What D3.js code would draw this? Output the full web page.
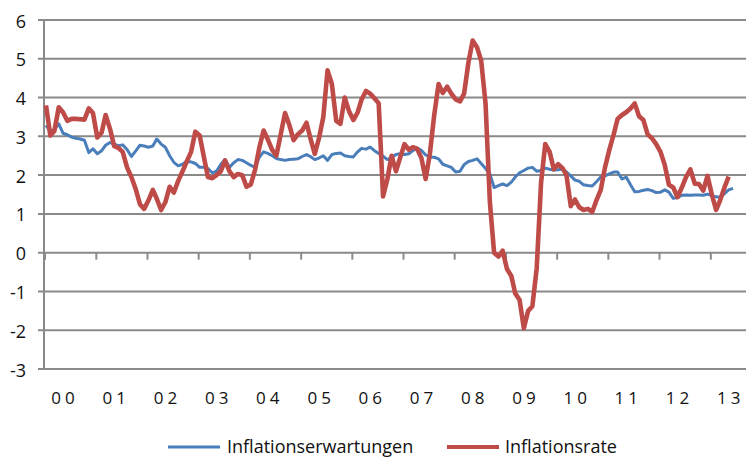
<!DOCTYPE html>
<html>
<head>
<meta charset="utf-8">
<script src="https://cdn.jsdelivr.net/npm/d3@7"></script>
<style>
  body { margin: 0; background: #fff; }
  svg { display: block; font-family: "Open Sans", sans-serif; }
  .grid line { stroke: #8a8a8a; stroke-width: 2; }
  .lbl { fill: #111; }
</style>
</head>
<body>
<svg id="chart" width="746" height="458"></svg>
<script>
// Data (monthly, starting Jan 2000)
const years = ['00', '01', '02', '03', '04', '05', '06', '07', '08', '09', '10', '11', '12', '13'];
const yTicks = [-3, -2, -1, 0, 1, 2, 3, 4, 5, 6];

const erwartungen = [
  3.28, 3.12, 3.18, 3.32, 3.08, 3.04, 2.98, 2.95, 2.93, 2.9, 2.58, 2.68,
  2.55, 2.63, 2.77, 2.84, 2.8, 2.76, 2.78, 2.66, 2.48, 2.62, 2.77, 2.75,
  2.72, 2.75, 2.93, 2.8, 2.72, 2.5, 2.33, 2.24, 2.28, 2.36, 2.34, 2.3,
  2.2, 2.2, 2.17, 2.06, 2.1, 2.28, 2.4, 2.2, 2.32, 2.4, 2.38, 2.32,
  2.25, 2.2, 2.46, 2.6, 2.56, 2.5, 2.43, 2.4, 2.38, 2.4, 2.41, 2.42,
  2.48, 2.53, 2.48, 2.4, 2.44, 2.5, 2.38, 2.53, 2.56, 2.57, 2.5, 2.48,
  2.47, 2.6, 2.69, 2.67, 2.72, 2.63, 2.56, 2.49, 2.4, 2.45, 2.53, 2.55,
  2.53, 2.55, 2.63, 2.7, 2.64, 2.52, 2.47, 2.46, 2.42, 2.28, 2.24, 2.2,
  2.08, 2.1, 2.27, 2.35, 2.38, 2.42, 2.3, 2.17, 2.03, 1.68, 1.73, 1.77,
  1.73, 1.82, 1.95, 2.06, 2.12, 2.18, 2.2, 2.1, 2.12, 2.18, 2.15, 2.13,
  2.14, 2.16, 2.08, 1.98, 1.87, 1.84, 1.75, 1.73, 1.72, 1.83, 1.95, 1.98,
  2.03, 2.08, 2.08, 1.9, 1.95, 1.75, 1.57, 1.58, 1.61, 1.63, 1.6, 1.55,
  1.56, 1.62, 1.56, 1.4, 1.42, 1.48, 1.49, 1.48, 1.49, 1.49, 1.48, 1.51,
  1.47, 1.44, 1.43, 1.52, 1.62, 1.66
];

const rate = [
  3.8, 3.02, 3.14, 3.75, 3.62, 3.4, 3.45, 3.45, 3.44, 3.43, 3.72, 3.6,
  2.97, 3.1, 3.55, 3.2, 2.75, 2.7, 2.6, 2.2, 1.95, 1.65, 1.25, 1.13,
  1.35, 1.62, 1.39, 1.1, 1.3, 1.7, 1.55, 1.85, 2.1, 2.35, 2.6, 3.12,
  3.02, 2.45, 1.95, 1.92, 2.0, 2.1, 2.38, 2.1, 1.95, 2.03, 2.0, 1.7,
  1.76, 2.15, 2.7, 3.15, 2.92, 2.65, 2.5, 3.05, 3.6, 3.3, 2.9, 3.05,
  3.15, 3.35, 2.95, 2.55, 2.95, 3.5, 4.7, 4.35, 3.4, 3.32, 4.0, 3.65,
  3.42, 3.62, 3.95, 4.17, 4.1, 3.98, 3.85, 1.45, 1.9, 2.5, 2.1, 2.45,
  2.8, 2.65, 2.72, 2.68, 2.45, 1.9, 2.55, 3.55, 4.35, 4.12, 4.28, 4.1,
  3.95, 3.9, 4.1, 4.9, 5.47, 5.3, 4.95, 3.85, 1.3, 0.0, -0.1, 0.05,
  -0.42, -0.6, -1.05, -1.22, -1.95, -1.5, -1.38, -0.4, 1.8, 2.8, 2.6, 2.15,
  2.28, 2.18, 2.0, 1.2, 1.37, 1.17, 1.1, 1.13, 1.05, 1.35, 1.62, 2.2,
  2.65, 3.05, 3.45, 3.55, 3.62, 3.72, 3.85, 3.52, 3.42, 3.05, 2.95, 2.8,
  2.6, 2.25, 1.75, 1.68, 1.43, 1.68, 1.95, 2.15, 1.78, 1.77, 1.6, 1.98,
  1.5, 1.1, 1.35, 1.68, 1.96
];

const seriesNames = ['Inflationserwartungen', 'Inflationsrate'];
const seriesColors = ['#4a7ebb', '#be4b48'];

const svg = d3.select('#chart');
const W = 746;
const start = new Date(2000, 0, 1);
const monthDate = i => d3.timeMonth.offset(start, i);

const x = d3.scaleTime()
  .domain([start, new Date(2014, 0, 1)])
  .range([46, 763]);
const y = d3.scaleLinear().domain([-3, 6]).range([369, 20]);

// horizontal grid lines + left ticks
const grid = svg.append('g').attr('class', 'grid');
grid.selectAll('line').data(yTicks).join('line')
  .attr('x1', 38).attr('x2', W)
  .attr('y1', d => y(d)).attr('y2', d => y(d));

// vertical axis line
svg.append('line')
  .attr('x1', 44).attr('x2', 44)
  .attr('y1', y(6) - 1).attr('y2', y(-3) + 1)
  .attr('stroke', '#8a8a8a').attr('stroke-width', 2);

// y labels
svg.append('g').selectAll('text').data(yTicks).join('text')
  .attr('class', 'lbl')
  .attr('x', 26).attr('y', d => y(d))
  .attr('dy', '0.42em')
  .attr('text-anchor', 'end')
  .attr('font-size', 18)
  .text(d => d);

// category ticks on the zero line
const yearStarts = years.map((s, i) => new Date(2000 + i, 0, 1));
svg.append('g').selectAll('line').data(yearStarts).join('line')
  .attr('x1', d => x(d) - 1).attr('x2', d => x(d) - 1)
  .attr('y1', y(0)).attr('y2', y(0) + 7)
  .attr('stroke', '#8a8a8a').attr('stroke-width', 2);

// year labels
svg.append('g').selectAll('text').data(years).join('text')
  .attr('class', 'lbl')
  .attr('x', (d, i) => x(yearStarts[i]) + 19)
  .attr('y', 404)
  .attr('text-anchor', 'middle')
  .attr('font-size', 17)
  .attr('letter-spacing', 4)
  .text(d => d);

// lines
const line = d3.line()
  .x((d, i) => x(monthDate(i)))
  .y(d => y(d))
  .curve(d3.curveLinear);

svg.append('path')
  .datum(erwartungen)
  .attr('fill', 'none')
  .attr('stroke', seriesColors[0])
  .attr('stroke-width', 3)
  .attr('stroke-linejoin', 'round')
  .attr('d', line);

svg.append('path')
  .datum(rate)
  .attr('fill', 'none')
  .attr('stroke', seriesColors[1])
  .attr('stroke-width', 4.6)
  .attr('stroke-linejoin', 'round')
  .attr('d', line);

// legend
const legend = svg.append('g');
const legendItems = [
  { x0: 168, w: 52, tx: 227, sw: 3 },
  { x0: 447, w: 52, tx: 505, sw: 4 }
];
legendItems.forEach((it, i) => {
  legend.append('line')
    .attr('x1', it.x0).attr('x2', it.x0 + it.w)
    .attr('y1', 447).attr('y2', 447)
    .attr('stroke', seriesColors[i]).attr('stroke-width', it.sw);
  legend.append('text')
    .attr('class', 'lbl')
    .attr('x', it.tx).attr('y', 447)
    .attr('dy', '0.36em')
    .attr('font-size', 18)
    .text(seriesNames[i]);
});
</script>
</body>
</html>
